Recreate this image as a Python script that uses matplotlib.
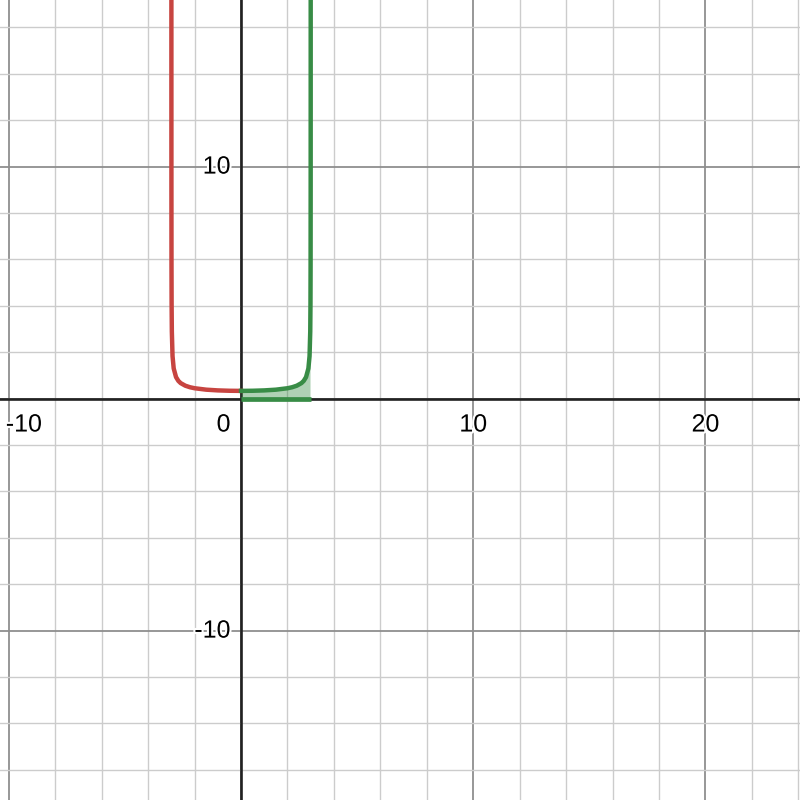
import matplotlib
matplotlib.use("Agg")
import matplotlib.pyplot as plt
import matplotlib.patheffects as pe

# Points (red branch, left of the y-axis)
red_x = [-2.99995, -2.9999, -2.9998, -2.9995, -2.999, -2.998, -2.995, -2.99, -2.98,
         -2.95, -2.9, -2.8, -2.7, -2.6, -2.4, -2.2, -2.0, -1.5, -1.0, -0.5, 0.0]
red_y = [57.7, 40.8, 28.9, 18.3, 12.9, 9.13, 5.77, 4.09, 2.89,
         1.83, 1.30, 0.928, 0.765, 0.668, 0.556, 0.490, 0.447, 0.385, 0.354, 0.338, 0.333]

# Points (green branch, right of the y-axis)
green_x = [0.0, 0.5, 1.0, 1.5, 2.0, 2.2, 2.4, 2.6, 2.7, 2.8, 2.9, 2.95,
           2.98, 2.99, 2.995, 2.998, 2.999, 2.9995, 2.9998, 2.9999, 2.99995]
green_y = [0.333, 0.338, 0.354, 0.385, 0.447, 0.490, 0.556, 0.668, 0.765, 0.928, 1.30, 1.83,
           2.89, 4.09, 5.77, 9.13, 12.9, 18.3, 28.9, 40.8, 57.7]

# Shaded region under the green branch (visible part)
shade_x = [0.0, 0.5, 1.0, 1.5, 2.0, 2.2, 2.4, 2.6, 2.7, 2.8, 2.9, 2.95, 2.97]
shade_y = [0.333, 0.338, 0.354, 0.385, 0.447, 0.490, 0.556, 0.668, 0.765, 0.928, 1.30, 1.83, 2.4]
base_x = [0.0, 3.0]
base_y = [0.0, 0.0]

x_ticks = [-10, 0, 10, 20]
x_tick_labels = ["-10", "0", "10", "20"]
y_ticks = [10, -10]
y_tick_labels = ["10", "-10"]

RED = "#c74440"
GREEN = "#388c46"

fig = plt.figure(figsize=(8, 8), dpi=100)
ax = fig.add_axes([0, 0, 1, 1])
xmin, xmax = -10.38, 24.07
ymin, ymax = -17.30, 17.18
ax.set_xlim(xmin, xmax)
ax.set_ylim(ymin, ymax)
ax.set_axis_off()

# grid
for gx in range(-10, 26, 2):
    major = gx % 10 == 0
    ax.axvline(gx, color="#8f8f8f" if major else "#cccccc", lw=1.3 if major else 1.0, zorder=0)
for gy in range(-18, 18, 2):
    major = gy % 10 == 0
    ax.axhline(gy, color="#8f8f8f" if major else "#cccccc", lw=1.3 if major else 1.0, zorder=0)

ax.axhline(0, color="#222222", lw=1.9, zorder=1)
ax.axvline(0, color="#222222", lw=1.9, zorder=1)

ax.fill_between(shade_x, shade_y, 0, color=GREEN, alpha=0.4, lw=0, zorder=2)
ax.plot(base_x, base_y, color=GREEN, lw=3.4, solid_capstyle="butt", zorder=3)
ax.plot(red_x, red_y, color=RED, lw=3.2, zorder=3)
ax.plot(green_x, green_y, color=GREEN, lw=3.2, zorder=4)

font = dict(family=["Liberation Sans", "DejaVu Sans"], fontsize=18, color="#000000")
stroke = [pe.withStroke(linewidth=3, foreground="white")]
for v, lab in zip(x_ticks, x_tick_labels):
    if v == 0:
        ax.text(-0.45, -0.6, lab, ha="right", va="top", path_effects=stroke, **font)
    elif v == -10:
        ax.text(xmin + 0.25, -0.6, lab, ha="left", va="top", path_effects=stroke, **font)
    else:
        ax.text(v, -0.6, lab, ha="center", va="top", path_effects=stroke, **font)
for v, lab in zip(y_ticks, y_tick_labels):
    ax.text(-0.45, v, lab, ha="right", va="center", path_effects=stroke, **font)

fig.savefig("out.png", dpi=100)
